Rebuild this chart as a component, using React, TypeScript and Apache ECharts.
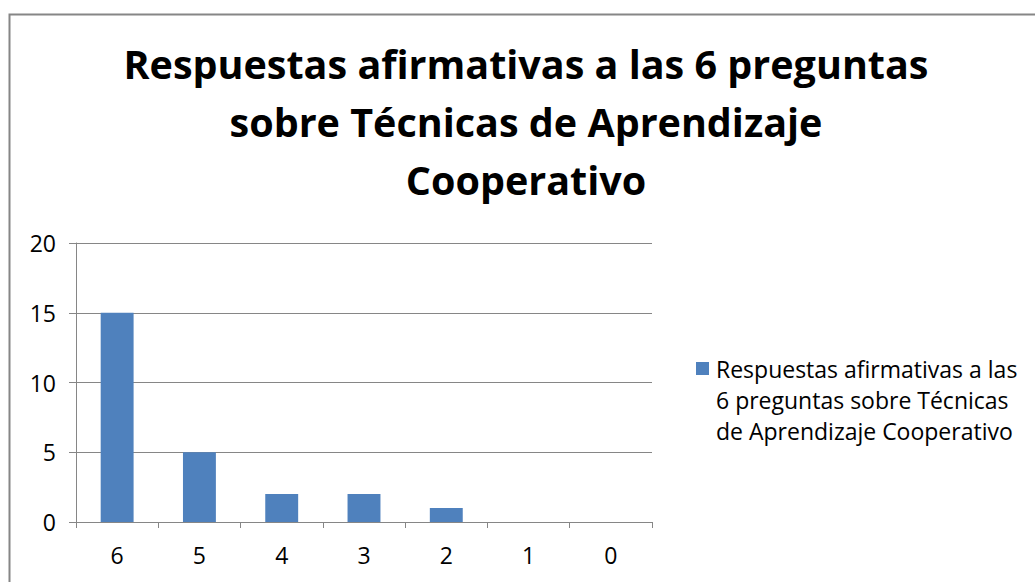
import React, { useEffect, useRef } from "react";
import * as echarts from "echarts";

const categories = ["6", "5", "4", "3", "2", "1", "0"];
const values = [15, 5, 2, 2, 1, 0, 0];
const seriesName = "Respuestas afirmativas a las 6 preguntas sobre Técnicas de Aprendizaje Cooperativo";
const legendLines = ["Respuestas afirmativas a las", "6 preguntas sobre Técnicas", "de Aprendizaje Cooperativo"];
const titleText = "Respuestas afirmativas a las 6 preguntas\nsobre Técnicas de Aprendizaje\nCooperativo";
const yMin = 0;
const yMax = 20;
const yInterval = 5;

const FONT = "'Open Sans', Carlito, Lato, sans-serif";
const BAR_COLOR = "#4F81BD";

export default function App() {
  const ref = useRef<HTMLDivElement>(null);
  useEffect(() => {
    if (!ref.current) return;
    const chart = echarts.init(ref.current, null, { renderer: "svg" });
    chart.setOption({
      animation: false,
      backgroundColor: "#ffffff",
      title: {
        text: titleText,
        left: 521,
        textAlign: "center",
        top: 30,
        textStyle: {
          fontFamily: FONT,
          fontWeight: "bold",
          fontSize: 39.5,
          lineHeight: 58,
          color: "#000000",
        },
      },
      legend: { show: false, data: [seriesName] },
      grid: {
        left: 76,
        right: 383,
        top: 243,
        bottom: 60,
        containLabel: false,
      },
      xAxis: {
        type: "category",
        data: categories,
        axisLine: { lineStyle: { color: "#868686", width: 1 } },
        axisTick: { show: true, length: 6, lineStyle: { color: "#868686" } },
        axisLabel: { fontFamily: FONT, fontSize: 23, color: "#000000", margin: 21 },
      },
      yAxis: {
        type: "value",
        min: yMin,
        max: yMax,
        interval: yInterval,
        axisLine: { show: true, lineStyle: { color: "#868686", width: 1 } },
        axisTick: { show: true, length: 7, lineStyle: { color: "#868686" } },
        axisLabel: { fontFamily: FONT, fontSize: 23, color: "#000000", margin: 20 },
        splitLine: { lineStyle: { color: "#868686", width: 1 } },
      },
      series: [
        {
          name: seriesName,
          type: "bar",
          data: values,
          barWidth: "40%",
          itemStyle: { color: BAR_COLOR },
        },
      ],
      graphic: [
        {
          type: "rect",
          left: 7,
          top: 12,
          shape: { width: 1200, height: 800 },
          style: { fill: "none", stroke: "#868686", lineWidth: 2 },
          silent: true,
          z: 100,
        },
        {
          type: "rect",
          left: 696,
          top: 362,
          shape: { width: 13, height: 13 },
          style: { fill: BAR_COLOR },
          silent: true,
        },
        {
          type: "text",
          left: 716,
          top: 353,
          style: {
            text: legendLines.join("\n"),
            fontFamily: FONT,
            fontSize: 23,
            lineHeight: 31,
            fill: "#000000",
          },
          silent: true,
        },
      ],
    });
    return () => chart.dispose();
  }, []);
  return (
    <div
      ref={ref}
      style={{ position: "absolute", left: 0, top: 0, width: 1035, height: 582 }}
    />
  );
}
